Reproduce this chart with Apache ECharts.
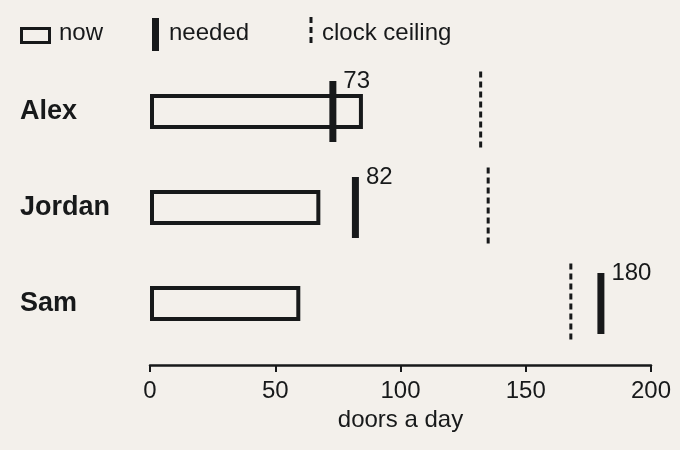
<!DOCTYPE html>
<html>
<head>
<meta charset="utf-8">
<title>doors a day</title>
<script src="https://cdn.jsdelivr.net/npm/echarts@6.0.0/dist/echarts.min.js"></script>
<style>
  html, body { margin: 0; padding: 0; background: #f3f0eb; }
  #chart { width: 680px; height: 450px; }
</style>
</head>
<body>
<div id="chart"></div>
<script>
// data
var people = ['Alex', 'Jordan', 'Sam'];
var nowValues = [85, 68, 60];
var neededValues = [73, 82, 180];
var ceilingValues = [132, 135, 168];
var xTicks = [0, 50, 100, 150, 200];

var ink = '#17191a';
var font = '"Liberation Sans", Arial, sans-serif';

var chart = echarts.init(document.getElementById('chart'));

var option = {
  backgroundColor: '#f3f0eb',
  animation: false,
  grid: { left: 150, right: 29, top: 63.5, height: 288 },
  xAxis: {
    type: 'value',
    min: xTicks[0],
    max: xTicks[xTicks.length - 1],
    interval: 50,
    offset: 13.5,
    splitLine: { show: false },
    axisLine: { show: true, lineStyle: { color: ink, width: 2.5 } },
    axisTick: { show: true, length: 7, lineStyle: { color: ink, width: 2 } },
    axisLabel: { color: ink, fontSize: 24, fontFamily: font, margin: 14 },
    name: 'doors a day',
    nameLocation: 'middle',
    nameGap: 43,
    nameTextStyle: { color: ink, fontSize: 24, fontFamily: font }
  },
  yAxis: {
    type: 'category',
    data: people,
    inverse: true,
    axisLine: { show: false },
    axisTick: { show: false },
    axisLabel: {
      color: ink, fontSize: 27, fontWeight: 'bold', fontFamily: font,
      align: 'left', margin: 130
    }
  },
  series: [
    {
      name: 'now',
      type: 'bar',
      data: nowValues,
      barWidth: 35,
      silent: true,
      itemStyle: { color: 'rgba(0,0,0,0)', borderColor: ink, borderWidth: 4 }
    },
    {
      name: 'clock ceiling',
      type: 'custom',
      silent: true,
      data: ceilingValues.map(function (v, i) { return [v, i]; }),
      encode: { x: 0, y: 1 },
      renderItem: function (params, api) {
        var p = api.coord([api.value(0), api.value(1)]);
        return {
          type: 'line',
          shape: { x1: p[0], y1: p[1] - 40, x2: p[0], y2: p[1] + 36 },
          style: { stroke: ink, lineWidth: 3, lineDash: [6, 4] }
        };
      }
    },
    {
      name: 'needed',
      type: 'custom',
      silent: true,
      data: neededValues.map(function (v, i) { return [v, i]; }),
      encode: { x: 0, y: 1 },
      renderItem: function (params, api) {
        var p = api.coord([api.value(0), api.value(1)]);
        return {
          type: 'group',
          children: [
            {
              type: 'rect',
              shape: { x: p[0] - 3.5, y: p[1] - 30.5, width: 7, height: 61 },
              style: { fill: ink }
            },
            {
              type: 'text',
              x: p[0] + 10.5,
              y: p[1] - 30.5,
              style: {
                text: String(api.value(0)),
                fill: ink,
                fontSize: 24,
                fontFamily: font,
                align: 'left',
                verticalAlign: 'middle'
              }
            }
          ]
        };
      }
    }
  ],
  // legend drawn by hand so the three keys look like the marks
  graphic: [
    { type: 'rect', shape: { x: 21.5, y: 28.5, width: 28, height: 14 },
      style: { fill: 'none', stroke: ink, lineWidth: 3 } },
    { type: 'text', x: 59, y: 33,
      style: { text: 'now', fill: ink, fontSize: 24, fontFamily: font, verticalAlign: 'middle' } },
    { type: 'rect', shape: { x: 152, y: 18, width: 7, height: 33 }, style: { fill: ink } },
    { type: 'text', x: 169, y: 33,
      style: { text: 'needed', fill: ink, fontSize: 24, fontFamily: font, verticalAlign: 'middle' } },
    { type: 'line', shape: { x1: 311, y1: 17, x2: 311, y2: 47 },
      style: { stroke: ink, lineWidth: 3, lineDash: [6, 4] } },
    { type: 'text', x: 322, y: 33,
      style: { text: 'clock ceiling', fill: ink, fontSize: 24, fontFamily: font, verticalAlign: 'middle' } }
  ]
};

chart.setOption(option);
</script>
</body>
</html>
